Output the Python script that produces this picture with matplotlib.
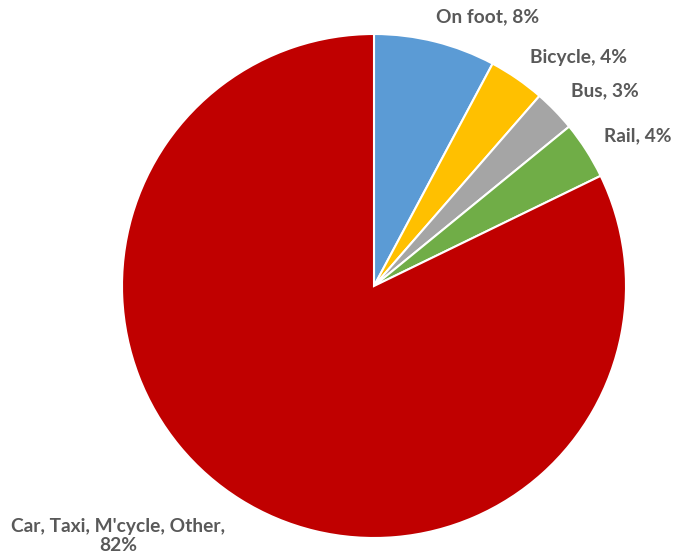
import matplotlib
matplotlib.use('Agg')
import matplotlib.pyplot as plt

# 出行方式占比
modes = ['On foot', 'Bicycle', 'Bus', 'Rail', "Car, Taxi, M'cycle, Other"]
shares = [7.8, 3.6, 2.7, 3.7, 82.2]
colors = ['#5B9BD5', '#FFC000', '#A5A5A5', '#70AD47', '#C00000']

# 标签位置（数据坐标，饼半径为 1）
label_pos = [(0.452, 1.067), (0.810, 0.905), (0.917, 0.774),
             (1.048, 0.595), (-1.016, -0.992)]

plt.rcParams['font.family'] = ['Lato', 'DejaVu Sans']

W, H = 674, 560
fig = plt.figure(figsize=(W / 100, H / 100), dpi=100)
cx, cy, r = 374, 286, 252
ax = fig.add_axes([(cx - r) / W, (H - cy - r) / H, 2 * r / W, 2 * r / H])

ax.pie(shares, colors=colors, startangle=90, counterclock=False,
       radius=1.0, wedgeprops=dict(edgecolor='white', linewidth=1.5))
ax.set_xlim(-1, 1)
ax.set_ylim(-1, 1)
ax.set_aspect('auto')
ax.axis('off')

for name, val, (tx, ty) in zip(modes, shares, label_pos):
    text = f'{name}, {val:.0f}%'
    if name.startswith('Car'):
        text = f'{name},\n{val:.0f}%'
    ax.text(tx, ty, text, ha='center', va='center', fontsize=13.8,
            fontweight='bold', color='#595959', clip_on=False,
            linespacing=1.1)

fig.savefig('out.png', dpi=100)
